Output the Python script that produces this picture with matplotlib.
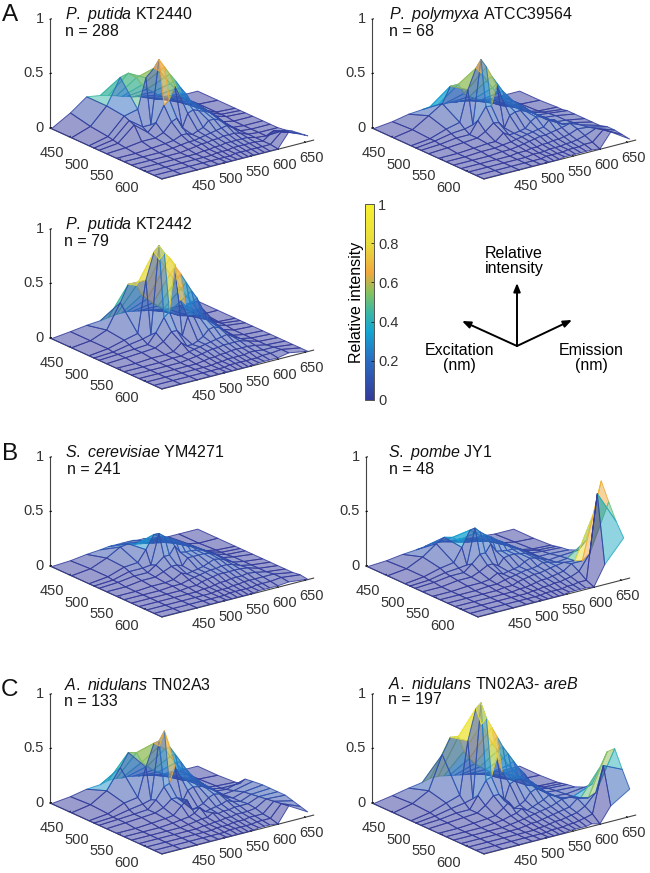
import numpy as np
import matplotlib
matplotlib.use("Agg")
import matplotlib.pyplot as plt
from matplotlib.colors import LinearSegmentedColormap
from matplotlib.cm import ScalarMappable
from mpl_toolkits.mplot3d import proj3d

plt.rcParams['font.family'] = ['Liberation Sans', 'DejaVu Sans']
plt.rcParams['mathtext.fontset'] = 'custom'
plt.rcParams['mathtext.rm'] = 'Liberation Sans'
plt.rcParams['mathtext.it'] = 'Liberation Sans:italic'

W, H = 650, 873

# DATA
excitation = [415, 455, 490, 500, 510, 525, 545, 560, 575, 590, 605, 620, 635]
emission = [385, 420, 450, 475, 490, 505, 515, 525, 535, 545, 555, 565, 575, 585, 600, 620, 655]
ex_ticks = [450, 500, 550, 600]
em_ticks = [450, 500, 550, 600, 650]
z_ticks = [0, 0.5, 1]
z_ticklabels = ['0', '0.5', '1']
cbar_ticks = [0, 0.2, 0.4, 0.6, 0.8, 1]
cbar_ticklabels = ['0', '0.2', '0.4', '0.6', '0.8', '1']

# relative intensity in percent, rows = excitation, columns = emission
putida_2440 = [
    [0, 10, 21, 19, 17, 15, 13, 12, 10, 9, 7, 5, 3, 2, 1, 0, 0],
    [0, 6, 21, 44, 46, 40, 32, 27, 23, 19, 16, 13, 10, 7, 3, 1, 0],
    [0, 4, 19, 22, 49, 56, 52, 45, 38, 32, 26, 21, 16, 12, 5, 1, 0],
    [0, 3, 17, 8, 8, 66, 58, 50, 43, 35, 28, 19, 16, 12, 5, 1, 0],
    [0, 2, 15, 5, 12, 26, 30, 41, 30, 26, 22, 18, 15, 11, 4, 1, 0],
    [0, 1, 3, 3, 6, 14, 16, 6, 18, 20, 18, 16, 14, 10, 2, 0, 0],
    [0, 0, 1, 2, 3, 6, 6, 4, 6, 8, 13, 13, 11, 7, 1, 0, 0],
    [0, 0, 0, 1, 2, 3, 3, 4, 5, 6, 7, 8, 9, 6, 1, 0, 0],
    [0, 0, 0, 0, 1, 2, 3, 3, 4, 4, 5, 5, 5, 4, 1, 0, 0],
    [0, 0, 0, 0, 0, 1, 1, 2, 2, 3, 3, 3, 3, 3, 1, 0, 1],
    [0, 0, 0, 0, 0, 0, 1, 1, 1, 2, 2, 2, 2, 2, 1, 8, 3],
    [0, 0, 0, 0, 0, 0, 0, 0, 1, 1, 1, 1, 1, 1, 1, 10, 4],
    [0, 0, 0, 0, 0, 0, 0, 0, 0, 0, 0, 0, 0, 0, 0, 13, 5],
]
polymyxa = [
    [0, 2, 5, 6, 7, 7, 6, 6, 5, 5, 4, 3, 2, 1, 0, 0, 0],
    [0, 3, 12, 20, 34, 34, 24, 20, 17, 14, 12, 9, 7, 4, 2, 1, 0],
    [0, 2, 7, 10, 38, 56, 50, 42, 34, 28, 22, 17, 13, 9, 4, 2, 1],
    [0, 2, 5, 6, 8, 66, 58, 48, 40, 32, 26, 20, 16, 12, 5, 3, 1],
    [0, 1, 3, 3, 14, 25, 24, 42, 28, 22, 20, 18, 15, 11, 5, 4, 2],
    [0, 1, 2, 3, 7, 13, 12, 6, 16, 18, 18, 16, 14, 10, 6, 5, 2],
    [0, 0, 1, 2, 2, 8, 5, 5, 6, 7, 12, 15, 14, 10, 6, 5, 2],
    [0, 0, 1, 1, 2, 3, 4, 5, 6, 7, 8, 9, 14, 13, 7, 6, 2],
    [0, 0, 0, 1, 1, 2, 3, 4, 5, 6, 6, 7, 8, 9, 11, 7, 2],
    [0, 0, 0, 0, 1, 1, 2, 2, 3, 3, 4, 4, 5, 6, 9, 8, 4],
    [0, 0, 0, 0, 0, 1, 1, 1, 2, 2, 2, 3, 3, 4, 6, 10, 4],
    [0, 0, 0, 0, 0, 0, 1, 1, 1, 1, 2, 2, 2, 3, 3, 12, 3],
    [0, 0, 0, 0, 0, 0, 0, 0, 1, 1, 1, 1, 1, 1, 0, 13, 2],
]
putida_2442 = [
    [0, 2, 4, 5, 6, 7, 7, 7, 6, 5, 4, 3, 2, 1, 0, 0, 0],
    [0, 2, 8, 30, 45, 42, 32, 27, 22, 18, 14, 10, 7, 4, 2, 0, 0],
    [0, 2, 6, 9, 56, 80, 72, 64, 56, 48, 40, 32, 25, 17, 6, 1, 0],
    [0, 1, 4, 6, 8, 88, 80, 74, 65, 57, 48, 39, 31, 20, 10, 2, 0],
    [0, 1, 2, 3, 12, 24, 28, 70, 36, 30, 26, 22, 18, 12, 5, 2, 0],
    [0, 1, 2, 3, 7, 14, 14, 8, 24, 24, 22, 20, 16, 12, 4, 1, 0],
    [0, 0, 1, 1, 2, 8, 4, 4, 6, 9, 14, 15, 13, 9, 3, 1, 0],
    [0, 0, 0, 1, 1, 3, 4, 5, 6, 7, 8, 9, 10, 7, 3, 1, 0],
    [0, 0, 0, 0, 1, 2, 3, 4, 5, 5, 6, 6, 6, 6, 4, 1, 0],
    [0, 0, 0, 0, 0, 1, 2, 2, 3, 3, 4, 4, 4, 4, 3, 1, 0],
    [0, 0, 0, 0, 0, 0, 1, 1, 2, 2, 2, 2, 3, 3, 2, 2, 0],
    [0, 0, 0, 0, 0, 0, 0, 1, 1, 1, 1, 1, 1, 2, 2, 3, 0],
    [0, 0, 0, 0, 0, 0, 0, 0, 0, 0, 0, 1, 1, 1, 1, 3, 0],
]
cerevisiae = [
    [0, 1, 3, 4, 5, 5, 5, 5, 5, 4, 4, 3, 2, 1, 0, 0, 0],
    [0, 2, 8, 15, 16, 14, 13, 12, 11, 10, 9, 8, 6, 4, 2, 0, 0],
    [0, 2, 7, 8, 18, 30, 27, 24, 21, 18, 15, 12, 10, 7, 3, 1, 0],
    [0, 1, 5, 5, 6, 33, 29, 26, 23, 20, 17, 14, 11, 8, 4, 1, 0],
    [0, 1, 3, 3, 8, 14, 14, 21, 14, 13, 13, 12, 11, 8, 4, 1, 0],
    [0, 0, 2, 2, 5, 8, 8, 6, 12, 12, 12, 12, 11, 9, 4, 2, 0],
    [0, 0, 1, 1, 2, 6, 4, 5, 6, 7, 9, 11, 10, 8, 4, 2, 0],
    [0, 0, 0, 1, 1, 3, 4, 5, 6, 7, 7, 8, 8, 7, 4, 2, 0],
    [0, 0, 0, 0, 1, 1, 3, 4, 5, 6, 6, 6, 6, 6, 5, 2, 0],
    [0, 0, 0, 0, 0, 1, 1, 2, 3, 3, 4, 4, 4, 5, 4, 2, 0],
    [0, 0, 0, 0, 0, 0, 1, 1, 1, 2, 2, 3, 3, 3, 3, 3, 0],
    [0, 0, 0, 0, 0, 0, 0, 1, 1, 1, 1, 1, 2, 2, 2, 3, 1],
    [0, 0, 0, 0, 0, 0, 0, 0, 0, 0, 0, 1, 1, 1, 1, 2, 0],
]
pombe = [
    [0, 1, 3, 4, 5, 6, 6, 5, 5, 4, 4, 3, 2, 1, 1, 0, 0],
    [0, 2, 9, 18, 22, 20, 16, 13, 12, 11, 10, 9, 7, 5, 3, 1, 0],
    [0, 2, 6, 8, 20, 34, 30, 26, 23, 20, 17, 14, 11, 8, 4, 2, 1],
    [0, 1, 4, 5, 6, 38, 33, 29, 26, 22, 19, 15, 12, 9, 5, 3, 2],
    [0, 1, 3, 3, 9, 16, 16, 23, 15, 14, 13, 13, 12, 9, 5, 4, 3],
    [0, 0, 2, 2, 5, 9, 9, 6, 12, 13, 13, 12, 11, 9, 5, 5, 4],
    [0, 0, 1, 1, 2, 6, 4, 5, 6, 7, 10, 12, 11, 9, 6, 7, 8],
    [0, 0, 0, 1, 1, 3, 4, 5, 6, 7, 7, 8, 10, 9, 7, 8, 20],
    [0, 0, 0, 0, 1, 1, 3, 4, 5, 6, 6, 7, 8, 9, 10, 9, 48],
    [0, 0, 0, 0, 0, 1, 1, 2, 3, 4, 4, 5, 6, 7, 12, 12, 81],
    [0, 0, 0, 0, 0, 0, 1, 1, 2, 2, 3, 3, 4, 5, 8, 22, 65],
    [0, 0, 0, 0, 0, 0, 0, 1, 1, 1, 1, 2, 2, 3, 3, 80, 50],
    [0, 0, 0, 0, 0, 0, 0, 0, 0, 0, 1, 1, 1, 1, 0, 18, 38],
]
nidulans = [
    [0, 2, 5, 6, 8, 8, 7, 7, 6, 5, 4, 3, 2, 1, 0, 0, 0],
    [0, 3, 12, 30, 42, 40, 30, 25, 20, 17, 14, 11, 8, 5, 2, 1, 0],
    [0, 2, 8, 10, 36, 56, 52, 48, 40, 33, 26, 20, 15, 10, 3, 2, 1],
    [0, 1, 4, 6, 8, 60, 68, 52, 44, 36, 28, 21, 16, 11, 4, 2, 2],
    [0, 1, 2, 3, 10, 20, 22, 36, 26, 22, 20, 18, 14, 10, 4, 3, 8],
    [0, 1, 2, 3, 6, 12, 12, 7, 16, 18, 17, 16, 14, 10, 4, 5, 9],
    [0, 0, 1, 2, 3, 10, 14, 4, 5, 7, 11, 13, 12, 8, 5, 8, 10],
    [0, 0, 0, 1, 2, 3, 5, 9, 4, 5, 6, 7, 9, 7, 5, 9, 10],
    [0, 0, 0, 0, 1, 2, 3, 3, 6, 4, 5, 5, 6, 6, 6, 10, 10],
    [0, 0, 0, 0, 0, 1, 1, 2, 2, 3, 3, 4, 4, 4, 5, 11, 10],
    [0, 0, 0, 0, 0, 0, 1, 1, 1, 2, 2, 2, 3, 3, 3, 12, 8],
    [0, 0, 0, 0, 0, 0, 0, 1, 1, 1, 1, 1, 2, 2, 2, 13, 6],
    [0, 0, 0, 0, 0, 0, 0, 0, 0, 0, 0, 1, 1, 1, 0, 14, 4],
]
nidulans_areb = [
    [0, 3, 6, 8, 10, 10, 9, 8, 7, 6, 5, 4, 3, 2, 1, 0, 0],
    [0, 4, 12, 42, 56, 55, 40, 32, 26, 22, 18, 14, 10, 6, 3, 1, 0],
    [0, 3, 8, 12, 60, 88, 72, 62, 52, 44, 36, 28, 22, 14, 5, 2, 1],
    [0, 2, 5, 7, 9, 95, 80, 70, 60, 50, 42, 34, 26, 20, 8, 3, 2],
    [0, 1, 3, 3, 14, 26, 28, 44, 30, 26, 24, 22, 19, 14, 6, 4, 3],
    [0, 1, 2, 3, 8, 15, 15, 8, 22, 24, 24, 22, 19, 14, 6, 5, 4],
    [0, 0, 1, 2, 3, 8, 12, 5, 7, 10, 16, 18, 16, 12, 7, 6, 8],
    [0, 0, 0, 1, 2, 4, 5, 8, 5, 7, 9, 11, 14, 12, 8, 7, 14],
    [0, 0, 0, 0, 1, 2, 3, 4, 5, 6, 7, 8, 10, 12, 12, 9, 32],
    [0, 0, 0, 0, 0, 1, 2, 2, 3, 4, 5, 6, 7, 8, 14, 12, 50],
    [0, 0, 0, 0, 0, 0, 1, 1, 2, 3, 3, 4, 5, 6, 10, 20, 56],
    [0, 0, 0, 0, 0, 0, 0, 1, 1, 1, 2, 2, 3, 4, 6, 48, 40],
    [0, 0, 0, 0, 0, 0, 0, 0, 0, 1, 1, 1, 1, 2, 0, 14, 25],
]

panels = [putida_2440, polymyxa, putida_2442, cerevisiae, pombe, nidulans, nidulans_areb]
names = [r'$\mathit{P.\ putida}$ KT2440', r'$\mathit{P.\ polymyxa}$ ATCC39564',
         r'$\mathit{P.\ putida}$ KT2442', r'$\mathit{S.\ cerevisiae}$ YM4271',
         r'$\mathit{S.\ pombe}$ JY1', r'$\mathit{A.\ nidulans}$ TN02A3',
         r'$\mathit{A.\ nidulans}$ TN02A3- $\mathit{areB}$']
counts = ['n = 288', 'n = 68', 'n = 79', 'n = 241', 'n = 48', 'n = 133', 'n = 197']

# z axis foot in pixels, then name and count label positions
corners = [(50, 128), (372, 128), (50, 338), (50, 566), (366, 566), (50, 803), (372, 803)]
name_pos = [(65, 15), (389, 15), (65, 224), (65, 452), (388, 452), (64, 685), (388, 684)]
n_pos = [(65, 32), (389, 32), (64, 242), (67, 469), (389, 469), (64, 701), (388, 700)]
letters = [('A', 10, 15), ('B', 10, 454), ('C', 10, 690)]

EXLIM = (412, 636)
EMLIM = (385, 665)
TXT = '#333333'
FS = 11.5
parula = LinearSegmentedColormap.from_list('parula_ish', [
    (0.0, '#343a9a'), (0.2, '#2a6cc2'), (0.35, '#14a6d2'), (0.45, '#3cb8a2'),
    (0.55, '#86c25e'), (0.65, '#f0a83e'), (0.8, '#e8dc3c'), (1.0, '#f6f02e')])

fig = plt.figure(figsize=(W/100, H/100), dpi=100)


def surface_panel(values, corner):
    Z = np.array(values)/100
    X, Y = np.meshgrid(excitation, emission, indexing='ij')
    ax = fig.add_axes([0.1, 0.1, 0.6, 0.6*W/H], projection='3d', proj_type='ortho')
    ax.view_init(elev=20, azim=-36.9)
    ax.set_xlim(*EXLIM)
    ax.set_ylim(*EMLIM)
    ax.set_zlim(0, 1)
    ax.set_box_aspect((187, 190, 116))
    ax.patch.set_alpha(0)

    # face colour comes from one corner only, like flat shading in the original
    # low faces and the front faces of the spikes take the smaller corner,
    # the back faces of the peak take the highest one
    far = Z[1:, 1:]
    near = Z[1:, :-1]
    top = np.maximum.reduce([Z[:-1, :-1], Z[:-1, 1:], near, far])
    low = (far < 0.3) | (near < 0.3*far)
    low[:, -1] = far[:, -1] < 0.3
    shade = np.where(low, np.minimum(far, near), top)
    shade[:, -1] = np.where(low[:, -1], shade[:, -1], far[:, -1])
    c = np.zeros_like(Z)
    c[:-1, :-1] = shade
    fc = parula(c)
    fc[..., 3] = 0.5
    surf = ax.plot_surface(X, Y, Z, rstride=1, cstride=1, facecolors=fc, shade=False)
    ec = parula(c[:-1, :-1]).reshape(-1, 4)
    ec[:, 3] = 0.85
    surf.set_edgecolors(ec)
    surf.set_linewidth(0.7)

    for axis in (ax.xaxis, ax.yaxis, ax.zaxis):
        axis.set_pane_color((1, 1, 1, 0))
        axis.pane.set_edgecolor((1, 1, 1, 0))
        axis.line.set_color('#444444')
        axis.line.set_linewidth(0.8)
        axis._axinfo['tick']['inward_factor'] = 0
        axis._axinfo['tick']['outward_factor'] = 0.12
        axis._axinfo['tick']['linewidth'] = {True: 0.7, False: 0.5}
    ax.grid(False)
    ax.set_xticks(ex_ticks)
    ax.set_yticks(em_ticks)
    ax.set_zticks(z_ticks)
    ax.set_zticklabels(z_ticklabels)
    ax.zaxis.set_ticks_position('lower')
    ax.tick_params(labelsize=10.5, labelcolor=TXT)
    ax.tick_params(axis='x', pad=4)
    ax.tick_params(axis='y', pad=-2)
    ax.tick_params(axis='z', pad=-5.5)
    for t in ax.xaxis.get_ticklabels():
        t.set_va('center')
    for t in ax.zaxis.get_ticklabels():
        t.set_va('center')
        t.set_ha('right')

    # scale and shift the 3D box so the left corner and the front corner land on their pixels
    fig.canvas.draw()
    def px(a, b, c):
        x, y, _ = proj3d.proj_transform(a, b, c, ax.get_proj())
        return ax.transData.transform((x, y))
    left = px(EXLIM[0], EMLIM[0], 0)
    front = px(EXLIM[1], EMLIM[0], 0)
    size = 0.6*123.1/np.hypot(*(front-left))
    ax.set_position([0.1, 0.1, size, size*W/H])
    left = px(EXLIM[0], EMLIM[0], 0)
    ax.set_position([0.1+(corner[0]-left[0])/W, 0.1+(H-corner[1]-left[1])/H, size, size*W/H])
    return ax


for vals, corner in zip(panels, corners):
    surface_panel(vals, corner)

# text and arrows in pixel coordinates of the whole figure
over = fig.add_axes([0, 0, 1, 1])
over.set_xlim(0, W)
over.set_ylim(H, 0)
over.axis('off')
over.patch.set_alpha(0)
for name, p in zip(names, name_pos):
    over.text(p[0], p[1], name, fontsize=FS, va='center', color='#111111')
for n, p in zip(counts, n_pos):
    over.text(p[0], p[1], n, fontsize=FS, va='center', color='#111111')
for s, x, y in letters:
    over.text(x, y, s, fontsize=17.5, ha='center', va='center', color='#111111')

o = (517, 346)
for tip in [(517, 283), (462, 321), (572, 320)]:
    over.annotate('', xy=tip, xytext=o,
                  arrowprops=dict(arrowstyle='-|>,head_length=0.5,head_width=0.2', color='k',
                                  lw=1.4, shrinkA=0, shrinkB=0))
over.text(514, 261, 'Relative\nintensity', fontsize=FS, ha='center', va='center', linespacing=1.0)
over.text(459, 358, 'Excitation\n(nm)', fontsize=FS, ha='center', va='center', linespacing=1.0)
over.text(591, 358, 'Emission\n(nm)', fontsize=FS, ha='center', va='center', linespacing=1.0)

# colorbar
cax = fig.add_axes([365/W, 1-400/H, 9/W, 196/H])
cb = fig.colorbar(ScalarMappable(cmap=parula), cax=cax)
cb.set_ticks(cbar_ticks)
cb.set_ticklabels(cbar_ticklabels)
cb.ax.tick_params(labelsize=10.5, labelcolor=TXT, length=2, width=0.5, direction='in', pad=3)
cb.outline.set_linewidth(0.7)
cb.outline.set_edgecolor('#555555')
cb.set_label('Relative intensity', fontsize=FS, labelpad=1)
cb.ax.yaxis.set_label_position('left')

fig.savefig('out.png', dpi=100)
